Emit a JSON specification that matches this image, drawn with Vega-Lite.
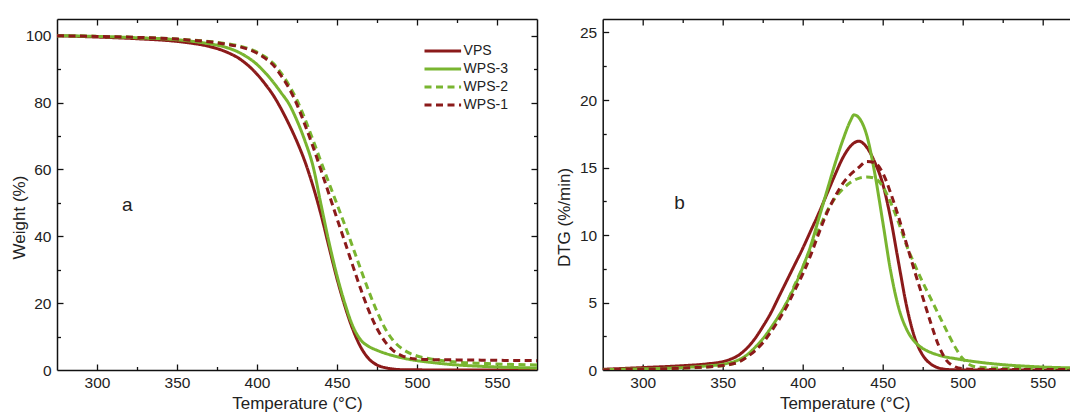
{
  "$schema": "https://vega.github.io/schema/vega-lite/v6.json",
  "padding": {"left": 10, "top": 18, "right": 0, "bottom": 0},
  "spacing": 65.7,
  "bounds": "flush",
  "config": {
    "font": "Liberation Sans",
    "view": {"stroke": null},
    "axis": {"grid": false, "labelColor": "#222", "titleColor": "#222", "labelFontSize": 15.5, "titleFontSize": 17, "titleFontWeight": "normal", "domainColor": "#111", "domainWidth": 1.5, "tickColor": "#111", "tickWidth": 1.3}
  },
  "datasets": {
    "tg": [
      {"T":275,"W":100,"s":"VPS"},{"T":300,"W":99.6,"s":"VPS"},{"T":325,"W":99.1,"s":"VPS"},{"T":350,"W":98.3,"s":"VPS"},{"T":360,"W":97.7,"s":"VPS"},{"T":370,"W":96.8,"s":"VPS"},{"T":380,"W":95.3,"s":"VPS"},{"T":390,"W":92.8,"s":"VPS"},{"T":400,"W":88.5,"s":"VPS"},{"T":405,"W":85.6,"s":"VPS"},{"T":410,"W":82.3,"s":"VPS"},{"T":415,"W":78.2,"s":"VPS"},{"T":420,"W":73.5,"s":"VPS"},{"T":425,"W":68.3,"s":"VPS"},{"T":430,"W":62.3,"s":"VPS"},{"T":435,"W":55.0,"s":"VPS"},{"T":440,"W":46.5,"s":"VPS"},{"T":445,"W":36.8,"s":"VPS"},{"T":450,"W":27.3,"s":"VPS"},{"T":455,"W":19.0,"s":"VPS"},{"T":460,"W":12.0,"s":"VPS"},{"T":465,"W":6.7,"s":"VPS"},{"T":470,"W":3.3,"s":"VPS"},{"T":475,"W":1.5,"s":"VPS"},{"T":480,"W":0.7,"s":"VPS"},{"T":485,"W":0.3,"s":"VPS"},{"T":490,"W":0.1,"s":"VPS"},{"T":500,"W":0.05,"s":"VPS"},{"T":520,"W":0,"s":"VPS"},{"T":550,"W":0,"s":"VPS"},{"T":575,"W":0,"s":"VPS"},
      {"T":275,"W":100,"s":"WPS-3"},{"T":300,"W":99.8,"s":"WPS-3"},{"T":325,"W":99.4,"s":"WPS-3"},{"T":350,"W":98.8,"s":"WPS-3"},{"T":360,"W":98.3,"s":"WPS-3"},{"T":370,"W":97.6,"s":"WPS-3"},{"T":380,"W":96.6,"s":"WPS-3"},{"T":390,"W":94.7,"s":"WPS-3"},{"T":400,"W":91.4,"s":"WPS-3"},{"T":405,"W":89.0,"s":"WPS-3"},{"T":410,"W":86.2,"s":"WPS-3"},{"T":415,"W":83.0,"s":"WPS-3"},{"T":420,"W":79.6,"s":"WPS-3"},{"T":425,"W":74.6,"s":"WPS-3"},{"T":430,"W":68.5,"s":"WPS-3"},{"T":435,"W":61.0,"s":"WPS-3"},{"T":440,"W":49.5,"s":"WPS-3"},{"T":445,"W":38.2,"s":"WPS-3"},{"T":450,"W":28.2,"s":"WPS-3"},{"T":455,"W":19.8,"s":"WPS-3"},{"T":460,"W":13.0,"s":"WPS-3"},{"T":465,"W":8.9,"s":"WPS-3"},{"T":470,"W":7.0,"s":"WPS-3"},{"T":475,"W":5.9,"s":"WPS-3"},{"T":480,"W":5.0,"s":"WPS-3"},{"T":485,"W":4.3,"s":"WPS-3"},{"T":490,"W":3.7,"s":"WPS-3"},{"T":495,"W":3.2,"s":"WPS-3"},{"T":500,"W":2.8,"s":"WPS-3"},{"T":510,"W":2.2,"s":"WPS-3"},{"T":520,"W":1.7,"s":"WPS-3"},{"T":530,"W":1.35,"s":"WPS-3"},{"T":540,"W":1.1,"s":"WPS-3"},{"T":550,"W":0.9,"s":"WPS-3"},{"T":560,"W":0.75,"s":"WPS-3"},{"T":575,"W":0.6,"s":"WPS-3"},
      {"T":275,"W":100,"s":"WPS-2"},{"T":300,"W":99.8,"s":"WPS-2"},{"T":325,"W":99.5,"s":"WPS-2"},{"T":350,"W":99.0,"s":"WPS-2"},{"T":360,"W":98.7,"s":"WPS-2"},{"T":370,"W":98.3,"s":"WPS-2"},{"T":380,"W":97.7,"s":"WPS-2"},{"T":390,"W":96.8,"s":"WPS-2"},{"T":400,"W":95.1,"s":"WPS-2"},{"T":405,"W":93.7,"s":"WPS-2"},{"T":410,"W":91.8,"s":"WPS-2"},{"T":415,"W":88.9,"s":"WPS-2"},{"T":420,"W":85.2,"s":"WPS-2"},{"T":425,"W":80.7,"s":"WPS-2"},{"T":430,"W":75.1,"s":"WPS-2"},{"T":435,"W":68.8,"s":"WPS-2"},{"T":440,"W":62.3,"s":"WPS-2"},{"T":445,"W":55.9,"s":"WPS-2"},{"T":450,"W":49.6,"s":"WPS-2"},{"T":455,"W":43.2,"s":"WPS-2"},{"T":460,"W":36.6,"s":"WPS-2"},{"T":465,"W":29.9,"s":"WPS-2"},{"T":470,"W":23.4,"s":"WPS-2"},{"T":475,"W":17.5,"s":"WPS-2"},{"T":480,"W":12.5,"s":"WPS-2"},{"T":485,"W":8.9,"s":"WPS-2"},{"T":490,"W":6.6,"s":"WPS-2"},{"T":495,"W":5.1,"s":"WPS-2"},{"T":500,"W":4.2,"s":"WPS-2"},{"T":510,"W":3.2,"s":"WPS-2"},{"T":520,"W":2.6,"s":"WPS-2"},{"T":530,"W":2.2,"s":"WPS-2"},{"T":540,"W":2.0,"s":"WPS-2"},{"T":550,"W":1.8,"s":"WPS-2"},{"T":560,"W":1.65,"s":"WPS-2"},{"T":575,"W":1.5,"s":"WPS-2"},
      {"T":275,"W":100,"s":"WPS-1"},{"T":300,"W":99.8,"s":"WPS-1"},{"T":325,"W":99.5,"s":"WPS-1"},{"T":350,"W":99.0,"s":"WPS-1"},{"T":360,"W":98.6,"s":"WPS-1"},{"T":370,"W":98.2,"s":"WPS-1"},{"T":380,"W":97.5,"s":"WPS-1"},{"T":390,"W":96.6,"s":"WPS-1"},{"T":400,"W":94.8,"s":"WPS-1"},{"T":405,"W":93.3,"s":"WPS-1"},{"T":410,"W":91.3,"s":"WPS-1"},{"T":415,"W":88.1,"s":"WPS-1"},{"T":420,"W":84.3,"s":"WPS-1"},{"T":425,"W":79.4,"s":"WPS-1"},{"T":430,"W":73.3,"s":"WPS-1"},{"T":435,"W":66.8,"s":"WPS-1"},{"T":440,"W":59.8,"s":"WPS-1"},{"T":445,"W":52.6,"s":"WPS-1"},{"T":450,"W":45.3,"s":"WPS-1"},{"T":455,"W":38.2,"s":"WPS-1"},{"T":460,"W":31.0,"s":"WPS-1"},{"T":465,"W":24.0,"s":"WPS-1"},{"T":470,"W":17.6,"s":"WPS-1"},{"T":475,"W":12.4,"s":"WPS-1"},{"T":480,"W":8.5,"s":"WPS-1"},{"T":485,"W":5.9,"s":"WPS-1"},{"T":490,"W":4.4,"s":"WPS-1"},{"T":495,"W":3.6,"s":"WPS-1"},{"T":500,"W":3.3,"s":"WPS-1"},{"T":510,"W":3.1,"s":"WPS-1"},{"T":520,"W":3.05,"s":"WPS-1"},{"T":530,"W":3.0,"s":"WPS-1"},{"T":540,"W":2.95,"s":"WPS-1"},{"T":550,"W":2.9,"s":"WPS-1"},{"T":560,"W":2.85,"s":"WPS-1"},{"T":575,"W":2.8,"s":"WPS-1"}
    ],
    "dtg": [
      {"T":275,"D":0.05,"s":"VPS"},{"T":300,"D":0.18,"s":"VPS"},{"T":325,"D":0.32,"s":"VPS"},{"T":340,"D":0.45,"s":"VPS"},{"T":350,"D":0.62,"s":"VPS"},{"T":355,"D":0.8,"s":"VPS"},{"T":360,"D":1.1,"s":"VPS"},{"T":365,"D":1.6,"s":"VPS"},{"T":370,"D":2.3,"s":"VPS"},{"T":375,"D":3.2,"s":"VPS"},{"T":380,"D":4.2,"s":"VPS"},{"T":385,"D":5.4,"s":"VPS"},{"T":390,"D":6.6,"s":"VPS"},{"T":395,"D":7.8,"s":"VPS"},{"T":400,"D":9.0,"s":"VPS"},{"T":405,"D":10.3,"s":"VPS"},{"T":410,"D":11.6,"s":"VPS"},{"T":415,"D":13.0,"s":"VPS"},{"T":420,"D":14.4,"s":"VPS"},{"T":425,"D":15.7,"s":"VPS"},{"T":430,"D":16.6,"s":"VPS"},{"T":435,"D":16.95,"s":"VPS"},{"T":440,"D":16.5,"s":"VPS"},{"T":445,"D":15.4,"s":"VPS"},{"T":450,"D":13.8,"s":"VPS"},{"T":455,"D":11.2,"s":"VPS"},{"T":460,"D":7.9,"s":"VPS"},{"T":465,"D":4.7,"s":"VPS"},{"T":470,"D":2.4,"s":"VPS"},{"T":475,"D":1.1,"s":"VPS"},{"T":480,"D":0.45,"s":"VPS"},{"T":485,"D":0.15,"s":"VPS"},{"T":490,"D":0.04,"s":"VPS"},{"T":500,"D":0,"s":"VPS"},{"T":520,"D":0,"s":"VPS"},{"T":550,"D":0,"s":"VPS"},{"T":575,"D":0,"s":"VPS"},
      {"T":275,"D":0.03,"s":"WPS-3"},{"T":300,"D":0.08,"s":"WPS-3"},{"T":325,"D":0.18,"s":"WPS-3"},{"T":340,"D":0.3,"s":"WPS-3"},{"T":350,"D":0.42,"s":"WPS-3"},{"T":355,"D":0.55,"s":"WPS-3"},{"T":360,"D":0.75,"s":"WPS-3"},{"T":365,"D":1.1,"s":"WPS-3"},{"T":370,"D":1.65,"s":"WPS-3"},{"T":375,"D":2.3,"s":"WPS-3"},{"T":380,"D":3.1,"s":"WPS-3"},{"T":385,"D":4.0,"s":"WPS-3"},{"T":390,"D":5.0,"s":"WPS-3"},{"T":395,"D":6.2,"s":"WPS-3"},{"T":400,"D":7.6,"s":"WPS-3"},{"T":405,"D":9.2,"s":"WPS-3"},{"T":410,"D":11.2,"s":"WPS-3"},{"T":415,"D":13.2,"s":"WPS-3"},{"T":420,"D":15.2,"s":"WPS-3"},{"T":425,"D":17.0,"s":"WPS-3"},{"T":430,"D":18.5,"s":"WPS-3"},{"T":432,"D":18.9,"s":"WPS-3"},{"T":435,"D":18.7,"s":"WPS-3"},{"T":440,"D":17.4,"s":"WPS-3"},{"T":445,"D":14.6,"s":"WPS-3"},{"T":450,"D":11.0,"s":"WPS-3"},{"T":455,"D":7.3,"s":"WPS-3"},{"T":460,"D":4.6,"s":"WPS-3"},{"T":465,"D":3.0,"s":"WPS-3"},{"T":470,"D":2.1,"s":"WPS-3"},{"T":475,"D":1.6,"s":"WPS-3"},{"T":480,"D":1.3,"s":"WPS-3"},{"T":485,"D":1.1,"s":"WPS-3"},{"T":490,"D":0.95,"s":"WPS-3"},{"T":495,"D":0.85,"s":"WPS-3"},{"T":500,"D":0.75,"s":"WPS-3"},{"T":510,"D":0.58,"s":"WPS-3"},{"T":520,"D":0.45,"s":"WPS-3"},{"T":530,"D":0.35,"s":"WPS-3"},{"T":540,"D":0.28,"s":"WPS-3"},{"T":550,"D":0.22,"s":"WPS-3"},{"T":560,"D":0.18,"s":"WPS-3"},{"T":575,"D":0.15,"s":"WPS-3"},
      {"T":275,"D":0.02,"s":"WPS-2"},{"T":300,"D":0.06,"s":"WPS-2"},{"T":325,"D":0.14,"s":"WPS-2"},{"T":340,"D":0.22,"s":"WPS-2"},{"T":350,"D":0.32,"s":"WPS-2"},{"T":355,"D":0.42,"s":"WPS-2"},{"T":360,"D":0.6,"s":"WPS-2"},{"T":365,"D":1.0,"s":"WPS-2"},{"T":370,"D":1.5,"s":"WPS-2"},{"T":375,"D":2.2,"s":"WPS-2"},{"T":380,"D":3.0,"s":"WPS-2"},{"T":385,"D":3.9,"s":"WPS-2"},{"T":390,"D":5.0,"s":"WPS-2"},{"T":395,"D":6.3,"s":"WPS-2"},{"T":400,"D":7.6,"s":"WPS-2"},{"T":405,"D":9.0,"s":"WPS-2"},{"T":410,"D":10.4,"s":"WPS-2"},{"T":415,"D":11.7,"s":"WPS-2"},{"T":420,"D":12.7,"s":"WPS-2"},{"T":425,"D":13.4,"s":"WPS-2"},{"T":430,"D":13.9,"s":"WPS-2"},{"T":435,"D":14.2,"s":"WPS-2"},{"T":440,"D":14.3,"s":"WPS-2"},{"T":445,"D":14.2,"s":"WPS-2"},{"T":450,"D":13.6,"s":"WPS-2"},{"T":455,"D":12.4,"s":"WPS-2"},{"T":460,"D":10.9,"s":"WPS-2"},{"T":465,"D":9.2,"s":"WPS-2"},{"T":470,"D":7.8,"s":"WPS-2"},{"T":475,"D":6.5,"s":"WPS-2"},{"T":480,"D":5.3,"s":"WPS-2"},{"T":485,"D":4.1,"s":"WPS-2"},{"T":490,"D":2.9,"s":"WPS-2"},{"T":495,"D":1.75,"s":"WPS-2"},{"T":500,"D":0.85,"s":"WPS-2"},{"T":505,"D":0.35,"s":"WPS-2"},{"T":510,"D":0.2,"s":"WPS-2"},{"T":520,"D":0.15,"s":"WPS-2"},{"T":530,"D":0.12,"s":"WPS-2"},{"T":540,"D":0.1,"s":"WPS-2"},{"T":550,"D":0.1,"s":"WPS-2"},{"T":560,"D":0.08,"s":"WPS-2"},{"T":575,"D":0.08,"s":"WPS-2"},
      {"T":275,"D":0.02,"s":"WPS-1"},{"T":300,"D":0.06,"s":"WPS-1"},{"T":325,"D":0.14,"s":"WPS-1"},{"T":340,"D":0.23,"s":"WPS-1"},{"T":350,"D":0.33,"s":"WPS-1"},{"T":355,"D":0.43,"s":"WPS-1"},{"T":360,"D":0.6,"s":"WPS-1"},{"T":365,"D":0.95,"s":"WPS-1"},{"T":370,"D":1.4,"s":"WPS-1"},{"T":375,"D":2.0,"s":"WPS-1"},{"T":380,"D":2.8,"s":"WPS-1"},{"T":385,"D":3.7,"s":"WPS-1"},{"T":390,"D":4.7,"s":"WPS-1"},{"T":395,"D":5.9,"s":"WPS-1"},{"T":400,"D":7.1,"s":"WPS-1"},{"T":405,"D":8.5,"s":"WPS-1"},{"T":410,"D":10.1,"s":"WPS-1"},{"T":415,"D":11.6,"s":"WPS-1"},{"T":420,"D":12.8,"s":"WPS-1"},{"T":425,"D":13.8,"s":"WPS-1"},{"T":430,"D":14.5,"s":"WPS-1"},{"T":435,"D":15.0,"s":"WPS-1"},{"T":440,"D":15.45,"s":"WPS-1"},{"T":445,"D":15.35,"s":"WPS-1"},{"T":450,"D":14.6,"s":"WPS-1"},{"T":455,"D":13.1,"s":"WPS-1"},{"T":460,"D":11.3,"s":"WPS-1"},{"T":465,"D":9.3,"s":"WPS-1"},{"T":470,"D":7.3,"s":"WPS-1"},{"T":475,"D":5.4,"s":"WPS-1"},{"T":480,"D":3.5,"s":"WPS-1"},{"T":485,"D":1.8,"s":"WPS-1"},{"T":490,"D":0.7,"s":"WPS-1"},{"T":495,"D":0.25,"s":"WPS-1"},{"T":500,"D":0.1,"s":"WPS-1"},{"T":510,"D":0.05,"s":"WPS-1"},{"T":530,"D":0.04,"s":"WPS-1"},{"T":575,"D":0.03,"s":"WPS-1"}
    ],
    "annoA": [{"T": 319, "W": 49.5, "label": "a"}],
    "annoB": [{"T": 323, "D": 12.4, "label": "b"}]
  },
  "hconcat": [
    {
      "width": 480,
      "height": 351,
      "resolve": {"axis": {"x": "independent", "y": "independent"}},
      "layer": [
        {
          "data": {"name": "tg"},
          "mark": {"type": "line", "strokeWidth": 3, "interpolate": "monotone", "clip": true},
          "encoding": {
            "x": {"field": "T", "type": "quantitative", "scale": {"domain": [275, 575], "nice": false, "zero": false},
              "axis": {"orient": "bottom", "title": "Temperature (°C)", "values": [300, 350, 400, 450, 500, 550], "ticks": false, "labelPadding": 5, "titlePadding": 5, "titleX": 240, "format": "d"}},
            "y": {"field": "W", "type": "quantitative", "scale": {"domain": [0, 105], "nice": false},
              "axis": {"orient": "left", "title": "Weight (%)", "values": [0, 20, 40, 60, 80, 100], "ticks": false, "labelPadding": 6, "titleX": -29, "titleY": 198}},
            "color": {"field": "s", "type": "nominal", "sort": null,
              "scale": {"domain": ["VPS", "WPS-3", "WPS-2", "WPS-1"], "range": ["#8B1A1A", "#79B530", "#79B530", "#8B1A1A"]},
              "legend": {"orient": "none", "legendX": 390.6, "legendY": 24.5, "title": null, "symbolType": "M-5.1,0H1", "symbolSize": 144, "symbolStrokeWidth": 3, "labelFontSize": 14, "labelOffset": 1, "labelColor": "#222", "rowPadding": 3, "padding": 0}},
            "strokeDash": {"field": "s", "type": "nominal", "sort": null,
              "scale": {"domain": ["VPS", "WPS-3", "WPS-2", "WPS-1"], "range": [[1, 0], [1, 0], [7, 4.5], [7, 4.5]]},
              "legend": {"orient": "none", "legendX": 390.6, "legendY": 24.5, "title": null}}
          }
        },
        {
          "data": {"name": "annoA"},
          "mark": {"type": "text", "fontSize": 19, "color": "#222"},
          "encoding": {
            "x": {"field": "T", "type": "quantitative", "scale": {"domain": [275, 575], "nice": false, "zero": false}, "axis": null},
            "y": {"field": "W", "type": "quantitative", "scale": {"domain": [0, 105], "nice": false}, "axis": null},
            "text": {"field": "label"}
          }
        },
        {
          "data": {"name": "annoA"},
          "mark": {"type": "point", "opacity": 0},
          "encoding": {
            "x": {"field": "T", "type": "quantitative", "scale": {"domain": [275, 575], "nice": false, "zero": false},
              "axis": {"orient": "bottom", "values": [300, 350, 400, 450, 500, 550], "labels": false, "domain": false, "tickSize": -6, "title": null}},
            "y": {"field": "W", "type": "quantitative", "scale": {"domain": [0, 105], "nice": false},
              "axis": {"orient": "left", "values": [20, 40, 60, 80, 100], "labels": false, "domain": false, "tickSize": -6, "title": null}}
          }
        },
        {
          "data": {"name": "annoA"},
          "mark": {"type": "point", "opacity": 0},
          "encoding": {
            "x": {"field": "T", "type": "quantitative", "scale": {"domain": [275, 575], "nice": false, "zero": false},
              "axis": {"orient": "bottom", "values": [325, 375, 425, 475, 525], "labels": false, "domain": false, "tickSize": -3.5, "title": null}},
            "y": {"field": "W", "type": "quantitative", "scale": {"domain": [0, 105], "nice": false},
              "axis": {"orient": "left", "values": [10, 30, 50, 70, 90], "labels": false, "domain": false, "tickSize": -3.5, "title": null}}
          }
        },
        {
          "data": {"name": "annoA"},
          "mark": {"type": "point", "opacity": 0},
          "encoding": {
            "x": {"field": "T", "type": "quantitative", "scale": {"domain": [275, 575], "nice": false, "zero": false},
              "axis": {"orient": "top", "values": [300, 350, 400, 450, 500, 550], "labels": false, "domain": true, "tickSize": -6, "title": null}},
            "y": {"field": "W", "type": "quantitative", "scale": {"domain": [0, 105], "nice": false},
              "axis": {"orient": "right", "values": [20, 40, 60, 80, 100], "labels": false, "domain": true, "tickSize": -6, "title": null}}
          }
        },
        {
          "data": {"name": "annoA"},
          "mark": {"type": "point", "opacity": 0},
          "encoding": {
            "x": {"field": "T", "type": "quantitative", "scale": {"domain": [275, 575], "nice": false, "zero": false},
              "axis": {"orient": "top", "values": [325, 375, 425, 475, 525], "labels": false, "domain": false, "tickSize": -3.5, "title": null}},
            "y": {"field": "W", "type": "quantitative", "scale": {"domain": [0, 105], "nice": false},
              "axis": {"orient": "right", "values": [10, 30, 50, 70, 90], "labels": false, "domain": false, "tickSize": -3.5, "title": null}}
          }
        }
      ]
    },
    {
      "width": 468,
      "height": 351,
      "resolve": {"axis": {"x": "independent", "y": "independent"}},
      "layer": [
        {
          "data": {"name": "dtg"},
          "mark": {"type": "line", "strokeWidth": 3, "interpolate": "monotone", "clip": true},
          "encoding": {
            "x": {"field": "T", "type": "quantitative", "scale": {"domain": [275, 567.5], "nice": false, "zero": false},
              "axis": {"orient": "bottom", "title": "Temperature (°C)", "values": [300, 350, 400, 450, 500, 550], "ticks": false, "labelPadding": 5, "titlePadding": 5, "titleX": 242, "format": "d"}},
            "y": {"field": "D", "type": "quantitative", "scale": {"domain": [0, 26], "nice": false},
              "axis": {"orient": "left", "title": "DTG (%/min)", "values": [0, 5, 10, 15, 20, 25], "ticks": false, "labelPadding": 6, "titleX": -29, "titleY": 198}},
            "color": {"field": "s", "type": "nominal", "sort": null,
              "scale": {"domain": ["VPS", "WPS-3", "WPS-2", "WPS-1"], "range": ["#8B1A1A", "#79B530", "#79B530", "#8B1A1A"]},
              "legend": {"orient": "none", "legendX": 388, "legendY": 23.5, "title": null, "symbolType": "M-5.1,0H1", "symbolSize": 144, "symbolStrokeWidth": 3, "labelFontSize": 14, "labelOffset": 1, "labelColor": "#222", "rowPadding": 3, "padding": 0}},
            "strokeDash": {"field": "s", "type": "nominal", "sort": null,
              "scale": {"domain": ["VPS", "WPS-3", "WPS-2", "WPS-1"], "range": [[1, 0], [1, 0], [7, 4.5], [7, 4.5]]},
              "legend": {"orient": "none", "legendX": 388, "legendY": 23.5, "title": null}}
          }
        },
        {
          "data": {"name": "annoB"},
          "mark": {"type": "text", "fontSize": 19, "color": "#222"},
          "encoding": {
            "x": {"field": "T", "type": "quantitative", "scale": {"domain": [275, 567.5], "nice": false, "zero": false}, "axis": null},
            "y": {"field": "D", "type": "quantitative", "scale": {"domain": [0, 26], "nice": false}, "axis": null},
            "text": {"field": "label"}
          }
        },
        {
          "data": {"name": "annoB"},
          "mark": {"type": "point", "opacity": 0},
          "encoding": {
            "x": {"field": "T", "type": "quantitative", "scale": {"domain": [275, 567.5], "nice": false, "zero": false},
              "axis": {"orient": "bottom", "values": [300, 350, 400, 450, 500, 550], "labels": false, "domain": false, "tickSize": -6, "title": null}},
            "y": {"field": "D", "type": "quantitative", "scale": {"domain": [0, 26], "nice": false},
              "axis": {"orient": "left", "values": [5, 10, 15, 20, 25], "labels": false, "domain": false, "tickSize": -6, "title": null}}
          }
        },
        {
          "data": {"name": "annoB"},
          "mark": {"type": "point", "opacity": 0},
          "encoding": {
            "x": {"field": "T", "type": "quantitative", "scale": {"domain": [275, 567.5], "nice": false, "zero": false},
              "axis": {"orient": "bottom", "values": [325, 375, 425, 475, 525], "labels": false, "domain": false, "tickSize": -3.5, "title": null}},
            "y": {"field": "D", "type": "quantitative", "scale": {"domain": [0, 26], "nice": false},
              "axis": {"orient": "left", "values": [2.5, 7.5, 12.5, 17.5, 22.5], "labels": false, "domain": false, "tickSize": -3.5, "title": null}}
          }
        },
        {
          "data": {"name": "annoB"},
          "mark": {"type": "point", "opacity": 0},
          "encoding": {
            "x": {"field": "T", "type": "quantitative", "scale": {"domain": [275, 567.5], "nice": false, "zero": false},
              "axis": {"orient": "top", "values": [300, 350, 400, 450, 500, 550], "labels": false, "domain": true, "tickSize": -6, "title": null}}
          }
        },
        {
          "data": {"name": "annoB"},
          "mark": {"type": "point", "opacity": 0},
          "encoding": {
            "x": {"field": "T", "type": "quantitative", "scale": {"domain": [275, 567.5], "nice": false, "zero": false},
              "axis": {"orient": "top", "values": [325, 375, 425, 475, 525], "labels": false, "domain": false, "tickSize": -3.5, "title": null}}
          }
        }
      ]
    }
  ]
}
